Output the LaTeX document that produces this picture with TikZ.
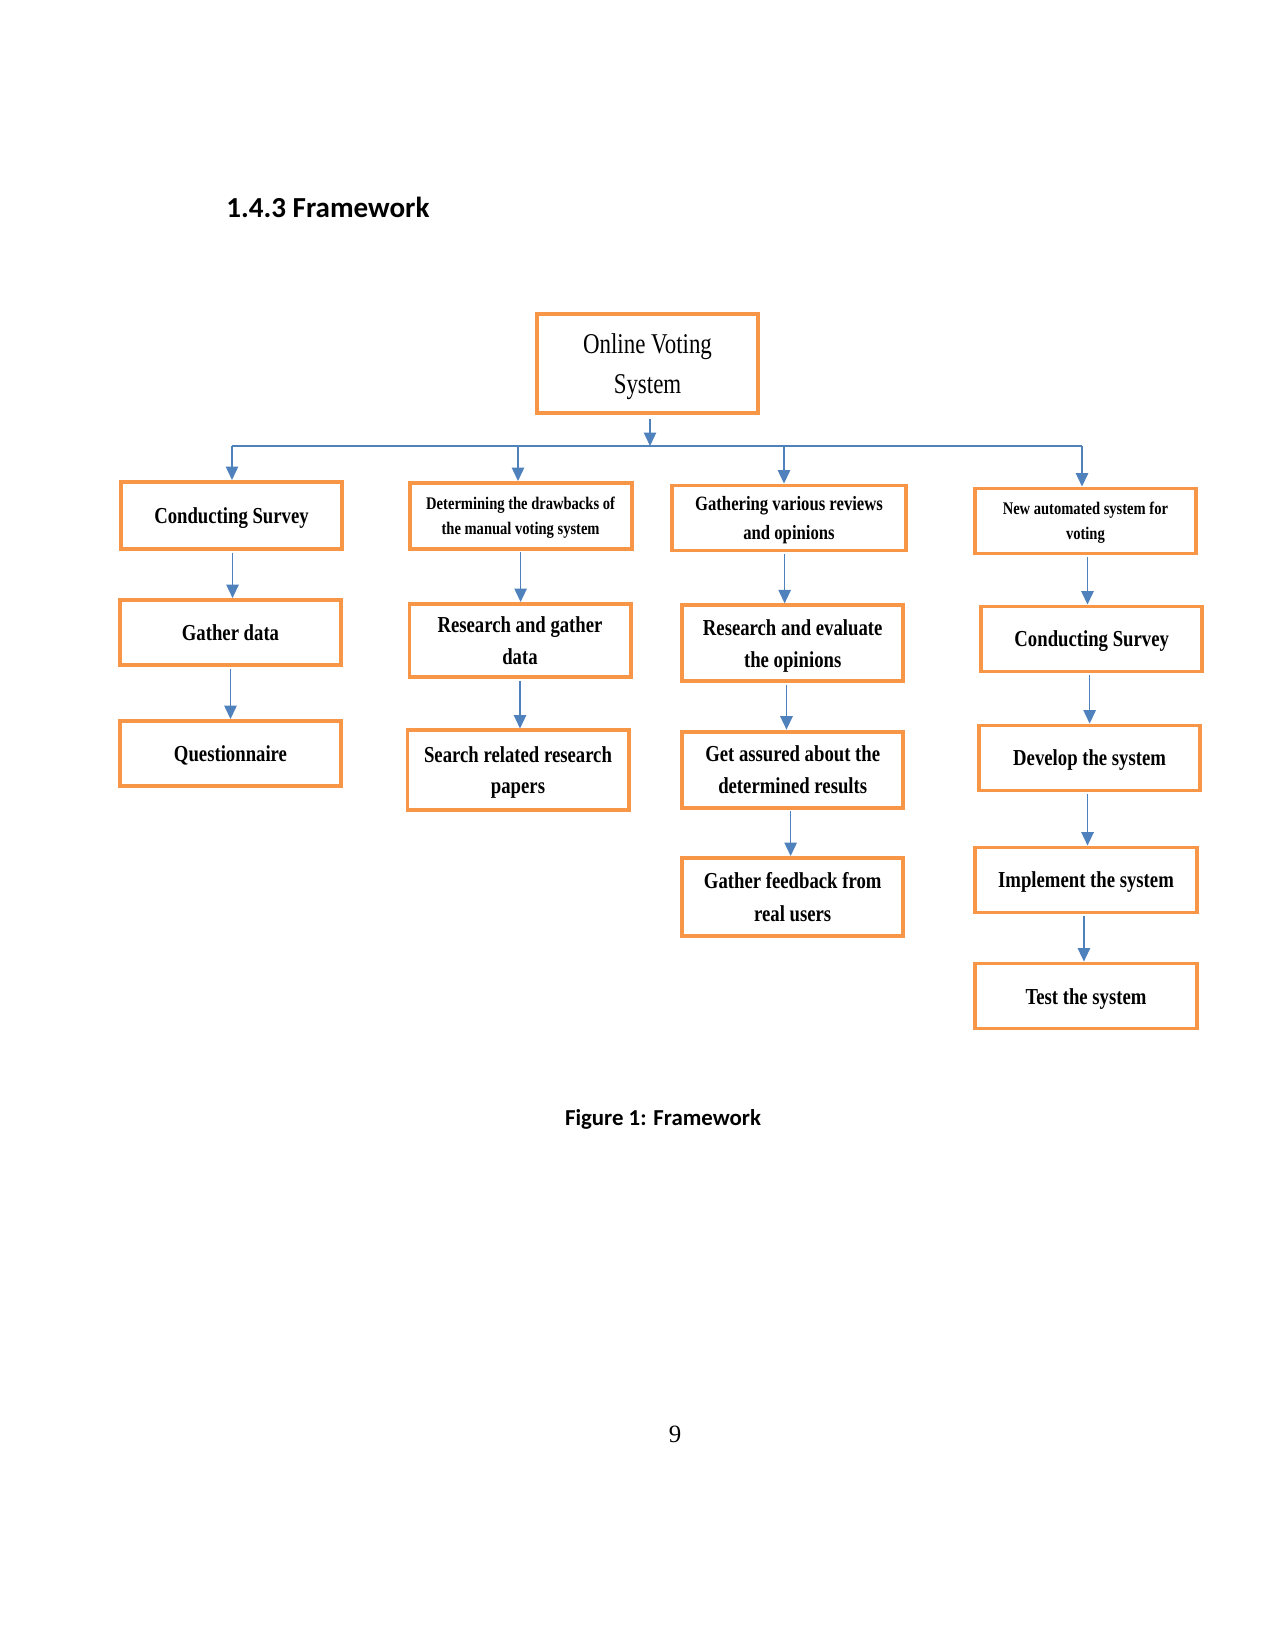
\documentclass[tikz,border=0pt]{standalone}
\usepackage{fontspec}
\setmainfont{Liberation Serif}
\newfontfamily\bxfont[FakeStretch=0.82]{Liberation Serif}
\newfontfamily\ovfont[FakeStretch=0.8]{Liberation Serif}
\newfontfamily\hdfont{Carlito}
\usetikzlibrary{arrows.meta}
\definecolor{boxor}{HTML}{F79646}
\definecolor{lnblue}{HTML}{4F81BD}
\begin{document}
\begin{tikzpicture}[x=0.4818pt,y=-0.4818pt,
  box/.style={draw=boxor,line width=1.9pt,inner sep=0pt,align=center,
    minimum width=106.5pt,minimum height=31.3pt,
    font=\bxfont\bfseries\fontsize{11}{15.2}\selectfont,
    execute at begin node={\rule{0pt}{0.95em}},
    execute at end node={\rule[-0.25em]{0pt}{0pt}}},
  twoline/.style={execute at begin node={\rule{0pt}{\dimexpr\baselineskip+0.95em\relax}}},
  smallbox/.style={box,font=\bxfont\bfseries\fontsize{8.55}{12.2}\selectfont},
  arr/.style={draw=lnblue,line width=0.7pt,-{Triangle[length=6.5pt,width=6pt]}},
  bus/.style={draw=lnblue,line width=0.7pt}]
\fill[white] (0,0) rectangle (1275,1651);
\useasboundingbox (0,0) rectangle (1275,1651);

% heading, caption, page number
\node[anchor=base west,inner sep=0pt,font=\hdfont\bfseries\fontsize{14}{17}\selectfont] (head) at (226,218) {1.4.3 Framework};
\node[anchor=base,inner sep=0pt,font=\hdfont\bfseries\fontsize{11}{13}\selectfont] (cap) at (663,1125) {Figure 1: Framework};
\node[anchor=base,inner sep=0pt,font=\fontsize{12}{14}\selectfont] (pnum) at (675,1442) {9};

% root
\node[box,twoline,minimum height=47.7pt,font=\ovfont\fontsize{13.8}{19.3}\selectfont] (ov) at (647.5,363.5) {Online Voting\\System};

% column 1
\node[box,minimum height=32.3pt] (cs1) at (231.5,515.5) {Conducting Survey};
\node[box] (gd) at (230.5,632.5) {Gather data};
\node[box] (q) at (230.5,753.5) {Questionnaire};

% column 2
\node[smallbox,twoline,minimum width=107pt,minimum height=31.6pt] (det) at (520.6,515.8) {Determining the drawbacks of\\the manual voting system};
\node[box,twoline,minimum height=35.2pt] (rg) at (520,640.5) {Research and gather\\data};
\node[box,twoline,minimum height=38.1pt] (sr) at (518,770) {Search related research\\papers};

% column 3
\node[box,twoline,minimum width=112.3pt,font=\bxfont\bfseries\fontsize{9.8}{14.2}\selectfont] (gv) at (789,518) {Gathering various reviews\\and opinions};
\node[box,twoline,minimum height=36.6pt] (re) at (792.7,643.3) {Research and evaluate\\the opinions};
\node[box,twoline,minimum height=36.6pt,font=\bxfont\bfseries\fontsize{11}{15.7}\selectfont] (ga) at (792.7,769.6) {Get assured about the\\determined results};
\node[box,twoline,minimum height=37.6pt,font=\bxfont\bfseries\fontsize{11}{15.7}\selectfont] (gf) at (792.7,897) {Gather feedback from\\real users};

% column 4
\node[smallbox,twoline] (na) at (1085.4,521) {New automated system for\\voting};
\node[box] (cs4) at (1091.7,639) {Conducting Survey};
\node[box] (ds) at (1089.6,758) {Develop the system};
\node[box,minimum width=107pt] (impl) at (1086,880) {Implement the system};
\node[box,minimum width=107pt] (ts) at (1086,996) {Test the system};

% bus
\coordinate (bL) at (232,446);
\coordinate (b2) at (518,446);
\coordinate (bM) at (650,446);
\coordinate (b3) at (784,446);
\coordinate (bR) at (1082,446);
\draw[bus] (bL) -- (bR);
\draw[arr,shorten <=2pt] (ov.south -| bM) -- (bM);
\draw[arr] (bL) -- (bL |- cs1.north);
\draw[arr] (b2) -- (b2 |- det.north);
\draw[arr] (b3) -- (b3 |- gv.north);
\draw[arr] (bR) -- (bR |- na.north);

% column arrows
\draw[arr,shorten <=0.8pt] ([xshift=0.5pt]cs1.south) -- ([xshift=0.5pt]cs1.south |- gd.north);
\draw[arr,shorten <=0.8pt] (gd.south) -- (gd.south |- q.north);
\draw[arr,shorten <=0.8pt] (det.south) -- (det.south |- rg.north);
\draw[arr,shorten <=0.8pt] (rg.south) -- (rg.south |- sr.north);
\draw[arr,shorten <=0.8pt] ([xshift=-2.1pt]gv.south) -- ([xshift=-2.1pt]gv.south |- re.north);
\draw[arr,shorten <=0.8pt] ([xshift=-3pt]re.south) -- ([xshift=-3pt]re.south |- ga.north);
\draw[arr,shorten <=0.8pt] ([xshift=-1pt]ga.south) -- ([xshift=-1pt]ga.south |- gf.north);
\draw[arr,shorten <=0.8pt] ([xshift=1pt]na.south) -- ([xshift=1pt]na.south |- cs4.north);
\draw[arr,shorten <=0.8pt] ([xshift=-1pt]cs4.south) -- ([xshift=-1pt]cs4.south |- ds.north);
\draw[arr,shorten <=0.8pt] ([xshift=-1pt]ds.south) -- ([xshift=-1pt]ds.south |- impl.north);
\draw[arr,shorten <=0.8pt] ([xshift=-1pt]impl.south) -- ([xshift=-1pt]impl.south |- ts.north);
\end{tikzpicture}
\end{document}
